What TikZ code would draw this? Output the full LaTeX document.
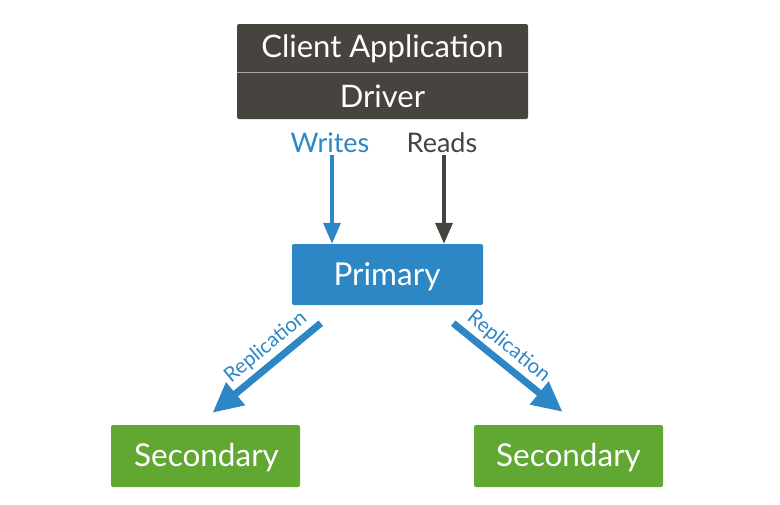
\documentclass[tikz,border=0pt]{standalone}
\usepackage{fontspec}
\setmainfont{Lato}
\usetikzlibrary{arrows.meta}

\definecolor{appgray}{HTML}{474440}
\definecolor{divgray}{HTML}{A8A5A0}
\definecolor{mblue}{HTML}{2D87C4}
\definecolor{mgreen}{HTML}{60A832}

\tikzset{
  appbox/.style={fill=appgray, rounded corners=2pt, minimum width=291pt, minimum height=95pt},
  apptext/.style={text=white, font=\fontsize{31}{34}\selectfont, inner sep=0pt, anchor=base},
  primbox/.style={fill=mblue, rounded corners=2pt, minimum width=191pt, minimum height=61pt},
  secbox/.style={fill=mgreen, rounded corners=2pt, minimum width=189pt, minimum height=62pt},
  boxtext/.style={text=white, font=\fontsize{31.5}{34}\selectfont, inner sep=0pt, anchor=base},
  oplabel/.style={font=\fontsize{27}{30}\selectfont, inner sep=0pt, anchor=base},
  oparrow/.style={line width=3.5pt, -{Triangle[length=21pt,width=17pt]}},
  reparrow/.style={draw=mblue, line width=7pt, -{Triangle[length=30pt,width=28pt]}},
  replabel/.style={text=mblue, font=\fontsize{20.5}{24}\selectfont, sloped, above=0.5pt, pos=0.41}
}

\begin{document}
\begin{tikzpicture}[x=1pt,y=-1pt]
\useasboundingbox (0,0) rectangle (780,504);

% client side
\node[appbox] (app) at (382.5,71.5) {};
\node[apptext] (client) at (382.5,57) {Client Application};
\node[apptext] (driver) at (382.5,107) {Driver};
\coordinate (div) at (0,72);
\draw[divgray, line width=0.8pt] (app.west |- div) -- (app.east |- div);

% replica set
\node[primbox] (prim) at (387.5,274.5) {};
\node[boxtext] (primtext) at (387,285.5) {Primary};
\node[secbox] (sec1) at (205.5,456) {};
\node[boxtext] (sec1text) at (206.5,466) {Secondary};
\node[secbox] (sec2) at (568.5,456) {};
\node[boxtext] (sec2text) at (568.5,466) {Secondary};

% writes and reads
\node[oplabel, text=mblue] (writes) at (330,152) {Writes};
\node[oplabel, text=appgray] (reads) at (442,152) {Reads};
\draw[oparrow, mblue] ([shift={(2,3)}]writes.south) -- ([xshift=2pt]writes.south |- prim.north);
\draw[oparrow, appgray] ([shift={(2,3)}]reads.south) -- ([xshift=2pt]reads.south |- prim.north);

% replication
\draw[reparrow] ([shift={(29,18)}]prim.south west) -- ([shift={(7,-12)}]sec1.north)
  node[replabel] {Replication};
\draw[reparrow] ([shift={(-30,18)}]prim.south east) -- ([shift={(-6,-13)}]sec2.north)
  node[replabel] {Replication};
\end{tikzpicture}
\end{document}
